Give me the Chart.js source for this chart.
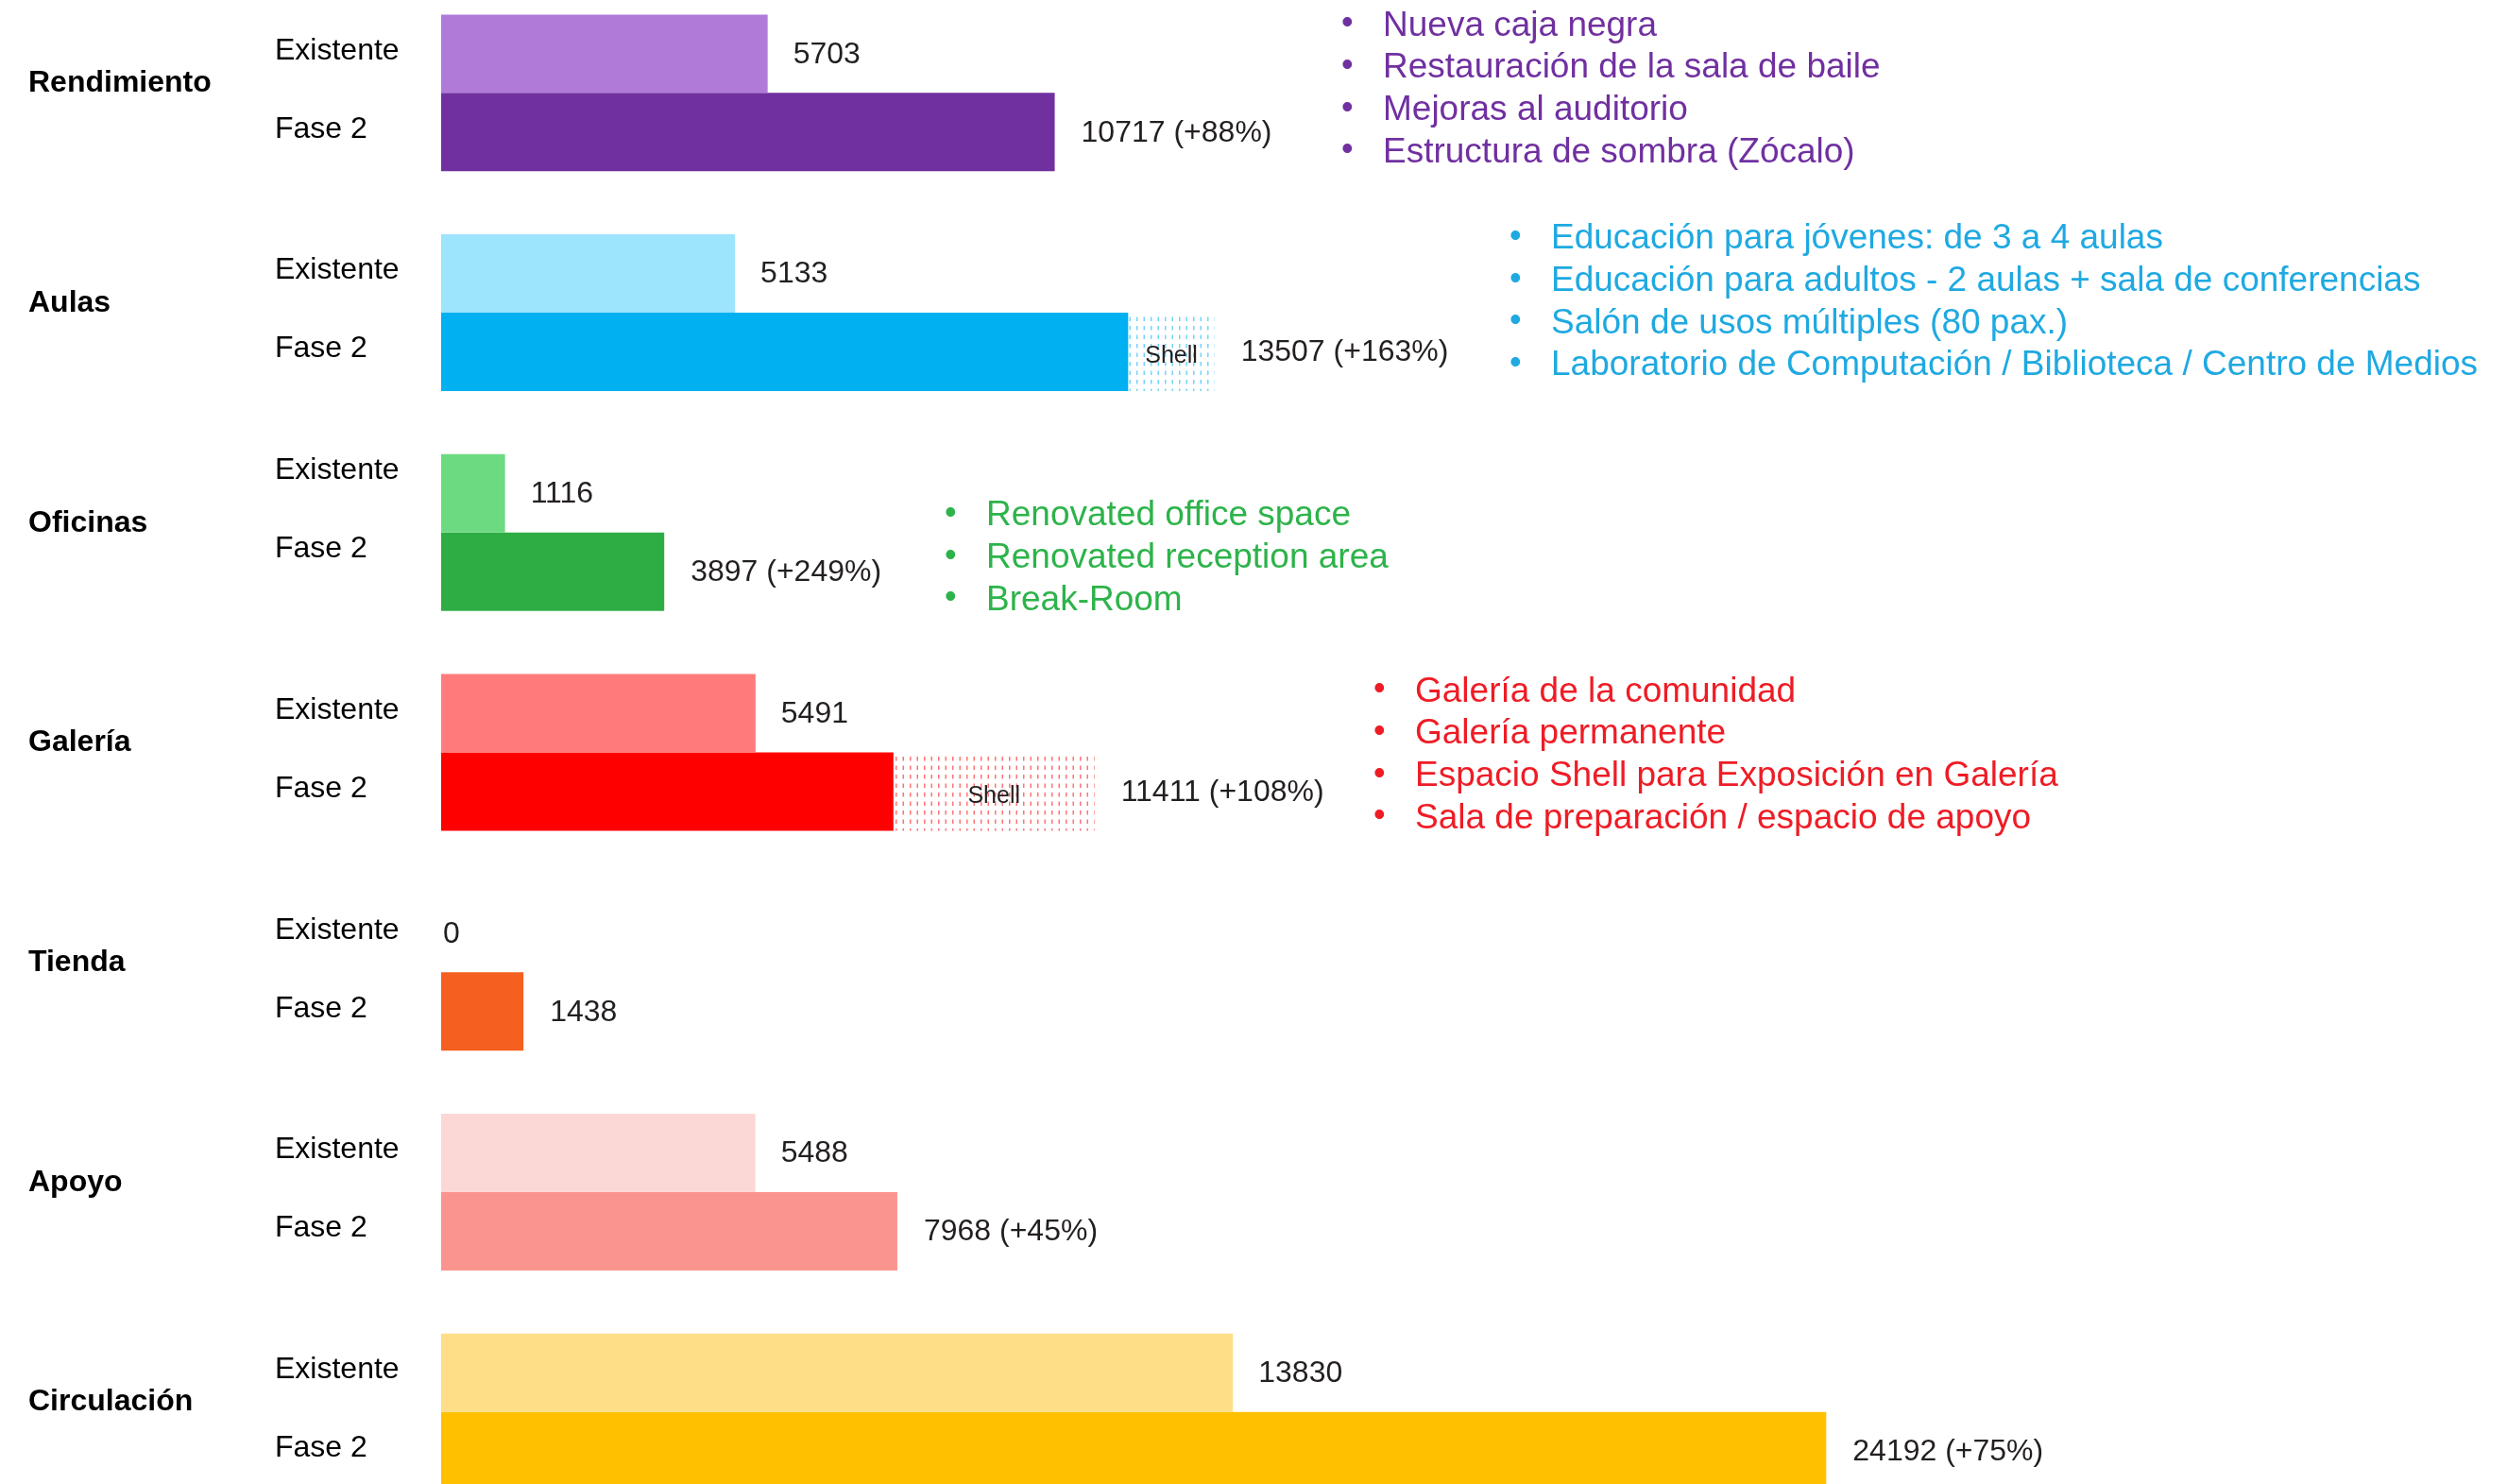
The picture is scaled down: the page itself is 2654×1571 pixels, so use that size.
<!DOCTYPE html>
<html>
<head>
<meta charset="utf-8">
<script src="https://cdn.jsdelivr.net/npm/chart.js@4.4.1/dist/chart.umd.min.js"></script>
<style>
  html, body { margin: 0; padding: 0; background: #fff; overflow: hidden; }
  #wrap { position: absolute; left: 0; top: -18px; width: 2654px; height: 1629px; }
</style>
</head>
<body>
<div id="wrap"><canvas id="spaceChart"></canvas></div>
<script>
// Areas per program, existing vs phase 2
const categories = ['Rendimiento', 'Aulas', 'Oficinas', 'Galería', 'Tienda', 'Apoyo', 'Circulación'];
const seriesNames = ['Existente', 'Fase 2'];
const existente = [5703, 5133, 1116, 5491, 0, 5488, 13830];
const fase2Built = [10717, 12000, 3897, 7900, 1438, 7968, 24192];
const fase2Shell = [0, 1507, 0, 3511, 0, 0, 0];
const fase2Total = [10717, 13507, 3897, 11411, 1438, 7968, 24192];
const fase2Change = ['+88%', '+163%', '+249%', '+108%', '', '+45%', '+75%'];

const notesRendimiento = ['Nueva caja negra', 'Restauración de la sala de baile', 'Mejoras al auditorio', 'Estructura de sombra (Zócalo)'];
const notesAulas = ['Educación para jóvenes: de 3 a 4 aulas', 'Educación para adultos - 2 aulas + sala de conferencias', 'Salón de usos múltiples (80 pax.)', 'Laboratorio de Computación / Biblioteca / Centro de Medios'];
const notesOficinas = ['Renovated office space', 'Renovated reception area', 'Break-Room'];
const notesGaleria = ['Galería de la comunidad', 'Galería permanente', 'Espacio Shell para Exposición en Galería', 'Sala de preparación / espacio de apoyo'];

// styles
const existenteColors = ['#B07BD8', '#9DE4FD', '#6CDA80', '#FF7B7B', '#FFFFFF', '#FBD8D6', '#FEDF87'];
const fase2Colors = ['#7030A0', '#00B0F0', '#2EAD44', '#FF0000', '#F55F1F', '#FA948E', '#FFC000'];
const noteBlocks = [
  { cat: 0, lines: notesRendimiento, color: '#7030A0', x: 1422, dy: -4 },
  { cat: 1, lines: notesAulas, color: '#1FA9E1', x: 1600, dy: -11 },
  { cat: 2, lines: notesOficinas, color: '#2DB34A', x: 1002, dy: 27 },
  { cat: 3, lines: notesGaleria, color: '#EE1C25', x: 1456, dy: 3 }
];
const FONT = '"Liberation Sans", Arial, Helvetica, sans-serif';

function shellPattern(color) {
  const c = document.createElement('canvas');
  c.width = 15;
  c.height = 19;
  const g = c.getContext('2d');
  g.fillStyle = '#fff';
  g.fillRect(0, 0, 15, 19);
  g.fillStyle = color;
  g.globalAlpha = 0.55;
  [[3, 2], [10.5, 2], [3, 11.5], [10.5, 11.5]].forEach(p => g.fillRect(p[0], p[1], 1.5, 4.5));
  return g.createPattern(c, 'repeat');
}

const shellColors = fase2Colors.map(c => shellPattern(c));

const labelPlugin = {
  id: 'barLabels',
  afterDatasetsDraw(chart) {
    const ctx = chart.ctx;
    const yScale = chart.scales.y;
    const exMeta = chart.getDatasetMeta(0);
    const f2Meta = chart.getDatasetMeta(1);
    const shMeta = chart.getDatasetMeta(2);
    ctx.save();
    ctx.textBaseline = 'middle';

    categories.forEach((cat, i) => {
      const cy = yScale.getPixelForValue(i);
      const exBar = exMeta.data[i];
      const f2Bar = f2Meta.data[i];
      const shBar = shMeta.data[i];

      ctx.textAlign = 'left';
      ctx.fillStyle = '#000';
      ctx.font = 'bold 32px ' + FONT;
      ctx.fillText(cat, 30, cy - 10);

      const shift = i === 2 ? -24 : -3;
      ctx.font = '32px ' + FONT;
      ctx.fillText(seriesNames[0], 291, exBar.y + shift);
      ctx.fillText(seriesNames[1], 291, f2Bar.y + shift);

      ctx.fillStyle = '#231F20';
      ctx.fillText(String(existente[i]), exBar.x + (existente[i] ? 27 : 2), exBar.y + 1);
      const end = fase2Shell[i] ? shBar.x : f2Bar.x;
      const txt = fase2Total[i] + (fase2Change[i] ? ' (' + fase2Change[i] + ')' : '');
      ctx.fillText(txt, end + 28, f2Bar.y + 1);

      if (fase2Shell[i]) {
        ctx.font = '25px ' + FONT;
        ctx.textAlign = 'center';
        ctx.fillText('Shell', (shBar.x + shBar.base) / 2, shBar.y + 5);
      }
    });

    noteBlocks.forEach(block => {
      const cy = yScale.getPixelForValue(block.cat) + block.dy;
      const n = block.lines.length;
      ctx.fillStyle = block.color;
      ctx.textAlign = 'left';
      block.lines.forEach((line, k) => {
        const y = cy + (k - (n - 1) / 2) * 44.7;
        ctx.font = '36px ' + FONT;
        ctx.fillText('•', block.x - 2, y - 2);
        ctx.font = '37px ' + FONT;
        ctx.fillText(line, block.x + 42, y);
      });
    });
    ctx.restore();
  }
};

const ctx = document.getElementById('spaceChart').getContext('2d');
const spaceChart = new Chart(ctx, {
  type: 'bar',
  data: {
    labels: categories,
    datasets: [
      {
        label: seriesNames[0],
        data: existente,
        stack: 'existente',
        backgroundColor: existenteColors,
        borderWidth: 0,
        barPercentage: 1,
        categoryPercentage: 0.713
      },
      {
        label: seriesNames[1],
        data: fase2Built,
        stack: 'fase2',
        backgroundColor: fase2Colors,
        borderWidth: 0,
        barPercentage: 1,
        categoryPercentage: 0.713
      },
      {
        label: 'Shell',
        data: fase2Shell,
        stack: 'fase2',
        backgroundColor: shellColors,
        borderWidth: 0,
        barPercentage: 1,
        categoryPercentage: 0.713
      }
    ]
  },
  options: {
    indexAxis: 'y',
    responsive: true,
    maintainAspectRatio: false,
    animation: false,
    layout: { padding: { left: 467, right: 5, top: 0, bottom: 0 } },
    scales: {
      x: { type: 'linear', min: 0, max: 36000, stacked: true, display: false },
      y: { display: false }
    },
    plugins: {
      legend: { display: false },
      tooltip: { enabled: false }
    }
  },
  plugins: [labelPlugin]
});
</script>
</body>
</html>
